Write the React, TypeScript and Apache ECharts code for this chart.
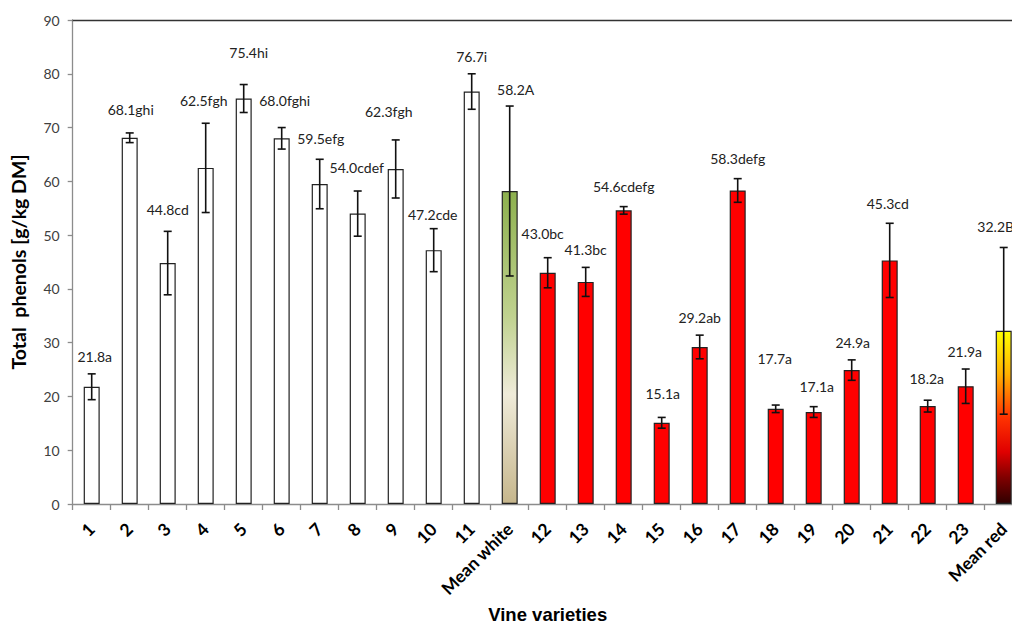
import React, { useEffect, useRef } from "react";
import * as echarts from "echarts";

const categories = ["1","2","3","4","5","6","7","8","9","10","11","Mean white","12","13","14","15","16","17","18","19","20","21","22","23","Mean red"];
const values = [21.8,68.1,44.8,62.5,75.4,68.0,59.5,54.0,62.3,47.2,76.7,58.2,43.0,41.3,54.6,15.1,29.2,58.3,17.7,17.1,24.9,45.3,18.2,21.9,32.2];
const errors = [2.4,0.9,5.9,8.3,2.6,2.0,4.6,4.2,5.4,4.0,3.3,15.8,2.8,2.7,0.7,1.0,2.2,2.2,0.7,1.0,1.9,6.9,1.1,3.2,15.5];
const letters = ["a","ghi","cd","fgh","hi","fghi","efg","cdef","fgh","cde","i","A","bc","bc","cdefg","a","ab","defg","a","a","a","cd","a","a","B"];
const groups = ["w","w","w","w","w","w","w","w","w","w","w","mw","r","r","r","r","r","r","r","r","r","r","r","r","mr"];
// label offsets in pixels relative to bar top (layout only)
const labelDx = [3,1,0,-2,5,3,1,-1,-7,-1,0,6,-5,0,0,1,0,0,-1,3,1,-2,-1,-1,-8];
const labelDy = [-30,-28,-54,-67,-46,-38,-46,-46,-57,-36,-35,-102,-39,-32,-24,-29,-29,-32,-50,-26,-28,-57,-28,-35,-104];

export default function App() {
  const ref = useRef<HTMLDivElement>(null);
  useEffect(() => {
    document.body.style.margin = "0";
    const chart = echarts.init(ref.current!, null, { renderer: "svg" });
    const fillFor = (g: string) => {
      if (g === "w") return "#ffffff";
      if (g === "r") return "#ff0000";
      if (g === "mw")
        return new echarts.graphic.LinearGradient(0, 0, 0, 1, [
          { offset: 0, color: "#8db04e" },
          { offset: 0.4, color: "#c0d28f" },
          { offset: 0.65, color: "#efebd9" },
          { offset: 1, color: "#c6b68c" },
        ]);
      return new echarts.graphic.LinearGradient(0, 0, 0, 1, [
        { offset: 0, color: "#ffff00" },
        { offset: 0.25, color: "#ffb000" },
        { offset: 0.5, color: "#ff3300" },
        { offset: 0.7, color: "#e00000" },
        { offset: 0.85, color: "#800000" },
        { offset: 1, color: "#300000" },
      ]);
    };
    const barData = values.map((v, i) => ({
      value: v,
      itemStyle: { color: fillFor(groups[i]), borderColor: "#222", borderWidth: 1.2 },
    }));
    const errData = values.map((v, i) => [i, v, errors[i]]);
    chart.setOption({
      animation: false,
      grid: { left: 72.7, right: -10.7, top: 20, bottom: 120, containLabel: false, outerBoundsMode: "none" },
      xAxis: [
        {
          type: "category",
          data: categories,
          boundaryGap: true,
          axisLine: { show: true, lineStyle: { color: "#8c8c8c", width: 1.3 } },
          axisTick: { show: true, length: 6, interval: 0, lineStyle: { color: "#8c8c8c", width: 1.3 } },
          axisLabel: {
            interval: 0,
            rotate: 45,
            margin: 22,
            fontFamily: "Lato",
            fontWeight: "bold",
            fontSize: 17.5,
            color: "#000",
          },
          splitLine: { show: false },
          name: "Vine varieties",
          nameLocation: "middle",
          nameGap: 101,
          nameTextStyle: { fontFamily: "Liberation Sans", fontWeight: "bold", fontSize: 18.5, color: "#000" },
        },
        {
          type: "category",
          position: "top",
          data: categories,
          axisLine: { show: true, lineStyle: { color: "#333", width: 1.3 } },
          axisTick: { show: false },
          axisLabel: { show: false },
          splitLine: { show: false },
        },
      ],
      yAxis: {
        type: "value",
        min: 0,
        max: 90,
        interval: 10,
        axisLine: { show: true, lineStyle: { color: "#8c8c8c", width: 1.3 } },
        axisTick: { show: true, length: 5, lineStyle: { color: "#8c8c8c", width: 1.3 } },
        splitLine: { show: false },
        axisLabel: { fontFamily: "Lato", fontSize: 14, color: "#404040", margin: 13 },
        name: "Total  phenols [g/kg DM]",
        nameLocation: "middle",
        nameGap: 44,
        nameRotate: 90,
        nameTextStyle: { fontFamily: "Lato", fontWeight: "bold", fontSize: 19.5, color: "#000" },
      },
      series: [
        {
          type: "bar",
          xAxisIndex: 0,
          data: barData,
          barWidth: 16,
          z: 2,
        },
        {
          type: "custom",
          xAxisIndex: 0,
          data: errData,
          encode: { x: 0, y: 1 },
          z: 3,
          renderItem: (params: any, api: any) => {
            const i = api.value(0);
            const v = api.value(1);
            const e = api.value(2);
            const idx = params.dataIndex;
            const c = api.coord([i, v]);
            const t = api.coord([i, v + e]);
            const b = api.coord([i, v - e]);
            const hw = 4;
            const st = { stroke: "#111", lineWidth: 1.6 };
            return {
              type: "group",
              children: [
                { type: "line", shape: { x1: t[0], y1: t[1], x2: b[0], y2: b[1] }, style: st },
                { type: "line", shape: { x1: t[0] - hw, y1: t[1], x2: t[0] + hw, y2: t[1] }, style: st },
                { type: "line", shape: { x1: b[0] - hw, y1: b[1], x2: b[0] + hw, y2: b[1] }, style: st },
                {
                  type: "text",
                  x: c[0] + labelDx[idx],
                  y: c[1] + labelDy[idx],
                  style: {
                    text: values[idx].toFixed(1) + letters[idx],
                    fill: "#222",
                    fontFamily: "Lato",
                    fontSize: 14,
                    align: "center",
                    verticalAlign: "middle",
                  },
                },
              ],
            };
          },
        },
      ],
    });
    return () => chart.dispose();
  }, []);
  return <div ref={ref} style={{ width: 1012, height: 624 }} />;
}
